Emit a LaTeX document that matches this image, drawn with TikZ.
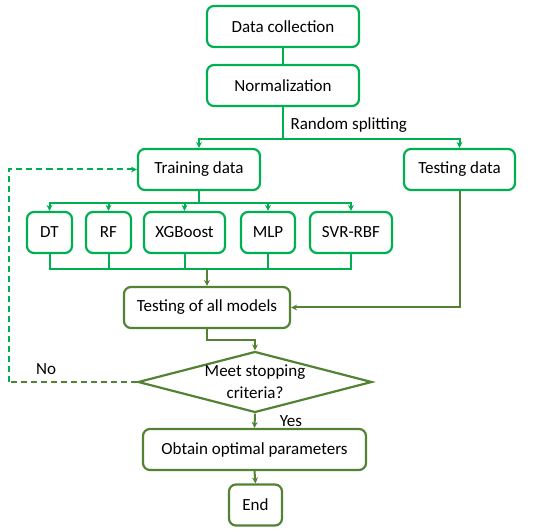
\documentclass[tikz,border=0pt]{standalone}
\usepackage{fontspec}
\setmainfont{Carlito}
\usetikzlibrary{shapes.geometric,arrows.meta}
\definecolor{lightgrn}{RGB}{0,176,80}
\definecolor{darkgrn}{RGB}{84,130,53}
\begin{document}
\begin{tikzpicture}[x=1pt, y=-1pt, font=\fontsize{17}{20}\selectfont,
    box/.style={draw=lightgrn, line width=2.2pt, rounded corners=7pt, minimum height=41pt, inner sep=0pt, fill=white},
    darkbox/.style={box, draw=darkgrn},
    link/.style={line width=2pt, lightgrn},
    flow/.style={link, -{Stealth[length=6pt, width=6pt]}},
    darkflow/.style={flow, darkgrn},
    loopline/.style={dash pattern=on 6pt off 4pt}]
    \useasboundingbox (0,0) rectangle (550,532);
    \node[box, minimum width=152pt] (DC) at (283,26.5) {Data collection};
    \node[box, minimum width=152pt] (NM) at (283,85.5) {Normalization};
    \node[box, minimum width=122pt] (TR) at (199,169.5) {Training data};
    \node[box, minimum width=111pt] (TS) at (459.5,169.5) {Testing data};
    \node[box, minimum width=45pt] (DT) at (49.5,232.5) {DT};
    \node[box, minimum width=45pt] (RF) at (108.5,232.5) {RF};
    \node[box, minimum width=81pt] (XG) at (184.5,232.5) {XGBoost};
    \node[box, minimum width=54pt] (MLP) at (268,232.5) {MLP};
    \node[box, minimum width=82pt] (SVR) at (351,232.5) {SVR-RBF};
    \node[darkbox, minimum width=166pt] (TA) at (207,307.5) {Testing of all models};
    \node[diamond, draw=darkgrn, line width=2.2pt, minimum width=234pt, minimum height=61pt, inner sep=0pt,
        label={[align=center, font=\fontsize{17}{22}\selectfont]center:Meet stopping\\criteria?}] (MC) at (255,382) {};
    \node[darkbox, minimum width=223pt] (OP) at (254.5,449.5) {Obtain optimal parameters};
    \node[darkbox, minimum width=53pt] (END) at (255.5,505) {End};
    \node[anchor=west] (RS) at (287,125) {Random splitting};
    \node (NO) at (46,369) {No};
    \node (YES) at (291,421) {Yes};
    \coordinate (join) at (TA.north |- 0,269);
    \coordinate (loop) at (9,382);
    % connectors
    \draw[link] (DC.south) -- (NM.north);
    \draw[flow] (NM.south) -- ++(0,32) -| (TR.north);
    \draw[flow] (NM.south) -- ++(0,32) -| (TS.north);
    \foreach \m in {DT,RF,XG,MLP,SVR} {
        \draw[flow] (TR.south) -- ++(0,12) -| (\m.north);
        \draw[link] (\m.south) |- (join);
    }
    \draw[darkflow] (join) -- (TA.north);
    \draw[darkflow] (TS.south) |- (TA.east);
    \draw[darkflow] (TA.south) -- ++(0,11) -| (MC.north);
    \draw[darkflow] (MC.south) -- (OP.north);
    \draw[darkflow] (OP.south) -- (END.north);
    \draw[link, darkgrn, loopline] (MC.west) -- (loop);
    \draw[flow, loopline] (loop) |- (TR.west);
\end{tikzpicture}
\end{document}
